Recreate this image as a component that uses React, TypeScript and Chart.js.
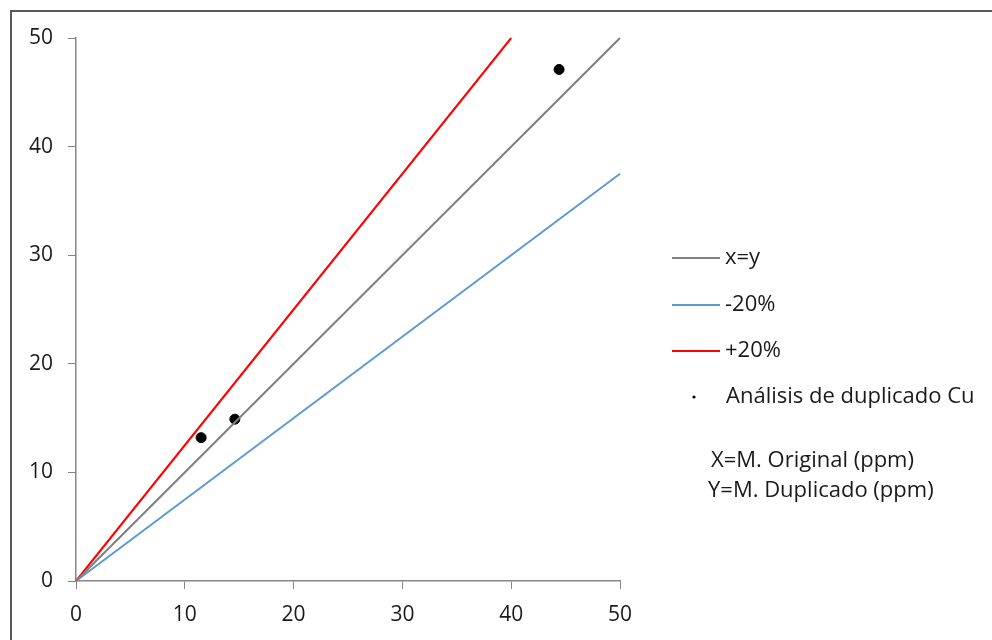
import React, { useEffect, useRef } from "react";
import { Chart, registerables } from "chart.js";

Chart.register(...registerables);

const xyLine = [
  { x: 0, y: 0 },
  { x: 50, y: 50 },
];
const minus20Line = [
  { x: 0, y: 0 },
  { x: 50, y: 37.5 },
];
const plus20Line = [
  { x: 0, y: 0 },
  { x: 40, y: 50 },
];
const originalValues = [11.5, 14.6, 44.4];
const duplicateValues = [13.2, 14.9, 47.1];
const seriesLabels = ["x=y", "-20%", "+20%", "Análisis de duplicado Cu"];
const noteLines = ["X=M. Original (ppm)", "Y=M. Duplicado (ppm)"];
const tickValues = [0, 10, 20, 30, 40, 50];

const FONT = "'Open Sans', 'DejaVu Sans', sans-serif";

export default function App() {
  const ref = useRef<HTMLCanvasElement | null>(null);

  useEffect(() => {
    document.body.style.margin = "0";
    const canvas = ref.current!;
    const framePlugin = {
      id: "frame",
      beforeDraw(chart: any) {
        const ctx = chart.ctx;
        ctx.save();
        ctx.fillStyle = "#ffffff";
        ctx.fillRect(0, 0, chart.width, chart.height);
        ctx.strokeStyle = "#595959";
        ctx.lineWidth = 2;
        ctx.beginPath();
        ctx.moveTo(11, chart.height + 5);
        ctx.lineTo(11, 11);
        ctx.lineTo(chart.width + 5, 11);
        ctx.stroke();
        ctx.restore();
      },
    };
    const legendPlugin = {
      id: "customLegend",
      afterDraw(chart: any) {
        const ctx = chart.ctx;
        const ds = chart.data.datasets;
        ctx.save();
        ctx.font = `22px ${FONT}`;
        ctx.textBaseline = "middle";
        ctx.textAlign = "left";
        const rows = [258, 305, 351];
        for (let i = 0; i < 3; i++) {
          ctx.strokeStyle = ds[i].borderColor;
          ctx.lineWidth = 2;
          ctx.beginPath();
          ctx.moveTo(672, rows[i]);
          ctx.lineTo(720, rows[i]);
          ctx.stroke();
          ctx.fillStyle = "#1a1a1a";
          ctx.fillText(ds[i].label, 725, rows[i]);
        }
        ctx.fillStyle = "#000";
        ctx.beginPath();
        ctx.arc(694, 397, 1.6, 0, Math.PI * 2);
        ctx.fill();
        ctx.fillStyle = "#1a1a1a";
        ctx.fillText(ds[3].label, 726, 397);
        ctx.fillText(noteLines[0], 711, 461);
        ctx.fillText(noteLines[1], 708, 491);
        ctx.restore();
      },
    };

    const points = originalValues.map((x, i) => ({ x, y: duplicateValues[i] }));

    const chart = new Chart(canvas, {
      type: "scatter",
      data: {
        datasets: [
          {
            label: seriesLabels[0],
            data: xyLine,
            showLine: true,
            borderColor: "#7f7f7f",
            borderWidth: 2,
            pointRadius: 0,
          },
          {
            label: seriesLabels[1],
            data: minus20Line,
            showLine: true,
            borderColor: "#5B9BD5",
            borderWidth: 2,
            pointRadius: 0,
          },
          {
            label: seriesLabels[2],
            data: plus20Line,
            showLine: true,
            borderColor: "#FF0000",
            borderWidth: 2,
            pointRadius: 0,
          },
          {
            label: seriesLabels[3],
            data: points,
            showLine: false,
            backgroundColor: "#000",
            borderColor: "#000",
            pointRadius: 5,
          },
        ],
      },
      options: {
        animation: false,
        responsive: false,
        clip: false as any,
        layout: { padding: { left: 0, right: 372, top: 38, bottom: 0 } },
        plugins: { legend: { display: false }, tooltip: { enabled: false } },
        scales: {
          x: {
            type: "linear",
            min: 0,
            max: 50,
            afterBuildTicks: (s: any) => {
              s.ticks = tickValues.map((v) => ({ value: v }));
            },
            afterFit: (s: any) => {
              s.height = 59;
            },
            grid: {
              drawOnChartArea: false,
              drawTicks: true,
              tickLength: 8,
              color: "#868686",
            },
            border: { color: "#868686", width: 1.5 },
            ticks: {
              padding: 13,
              color: "#1a1a1a",
              font: { family: FONT, size: 21 },
              maxRotation: 0,
            },
          },
          y: {
            type: "linear",
            min: 0,
            max: 50,
            afterBuildTicks: (s: any) => {
              s.ticks = tickValues.map((v) => ({ value: v }));
            },
            afterFit: (s: any) => {
              s.width = 76;
            },
            grid: {
              drawOnChartArea: false,
              drawTicks: true,
              tickLength: 8,
              color: "#868686",
            },
            border: { color: "#868686", width: 1.5 },
            ticks: {
              padding: 15,
              color: "#1a1a1a",
              font: { family: FONT, size: 21 },
            },
          },
        },
      },
      plugins: [framePlugin, legendPlugin],
    });
    return () => chart.destroy();
  }, []);

  return (
    <div style={{ position: "absolute", left: 0, top: 0, width: 992, height: 640 }}>
      <canvas ref={ref} width={992} height={640} style={{ width: 992, height: 640 }} />
    </div>
  );
}
